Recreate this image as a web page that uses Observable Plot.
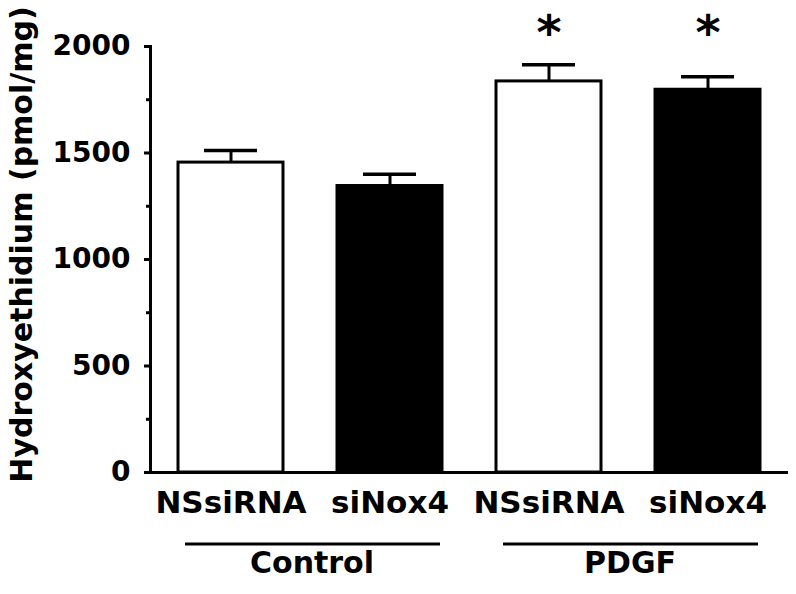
<!DOCTYPE html>
<html><head><meta charset="utf-8">
<script src="https://cdn.jsdelivr.net/npm/d3@7"></script>
<script src="https://cdn.jsdelivr.net/npm/@observablehq/plot@0.6"></script>
<style>body{margin:0;background:#fff}</style>
</head><body><div id="chart"></div>
<script>
const keys = ["c-ns", "c-si", "p-ns", "p-si"];
const treatments = ["NSsiRNA", "siNox4", "NSsiRNA", "siNox4"];
const groups = ["Control", "Control", "PDGF", "PDGF"];
const means = [1455, 1345, 1836, 1797];
const sems = [57, 55, 78, 61];
const fills = ["white", "black", "white", "black"];
const significant = [false, false, true, true];
const groupNames = ["Control", "PDGF"];
const yTicks = [0, 500, 1000, 1500, 2000];
const yMinorTicks = [250, 750, 1250, 1750];
const yTitle = "Hydroxyethidium (pmol/mg)";

const rows = keys.map((k, i) => ({key: k, treatment: treatments[i], group: groups[i], mean: means[i], sem: sems[i], fill: fills[i], sig: significant[i]}));
const groupRows = groupNames.map(g => {
  const ks = rows.filter(r => r.group === g).map(r => r.key);
  return {name: g, first: ks[0], last: ks[ks.length - 1]};
});
const labelOf = Object.fromEntries(rows.map(r => [r.key, r.treatment]));

const chart = Plot.plot({
  width: 796,
  height: 594,
  marginLeft: 150,
  marginRight: 8,
  marginTop: 46,
  marginBottom: 122,
  style: {fontFamily: "DejaVu Sans", fontWeight: "bold", color: "black", background: "white"},
  x: {domain: keys, paddingInner: 0.337, paddingOuter: 0.165, axis: null},
  y: {domain: [0, 2000], axis: null},
  color: {type: "identity"},
  marks: [
    Plot.barY(rows, {x: "key", y: "mean", fill: "fill", stroke: "black", strokeWidth: 3}),
    Plot.ruleX(rows, {x: "key", y1: "mean", y2: d => d.mean + d.sem, stroke: "black", strokeWidth: 3}),
    Plot.tickY(rows, {x: "key", y: d => d.mean + d.sem, stroke: "black", strokeWidth: 3.5, insetLeft: 26, insetRight: 26}),
    Plot.ruleY([0], {stroke: "black", strokeWidth: 3}),
    Plot.frame({anchor: "left", stroke: "black", strokeWidth: 3}),
    Plot.axisY({ticks: yTicks, tickSize: 6, tickPadding: 14, fontSize: 28, strokeWidth: 3, tickFormat: d => String(d), label: null}),
    Plot.axisY({ticks: yMinorTicks, tickSize: 4, tickFormat: () => "", strokeWidth: 3, label: null}),
    Plot.text([yTitle], {text: d => d, frameAnchor: "left", textAnchor: "middle", rotate: -90, dx: -128, dy: -15, fontSize: 30}),
    Plot.axisX({tickFormat: k => labelOf[k], tickSize: 0, tickPadding: 18, fontSize: 31, label: null}),
    Plot.text(rows.filter(r => r.sig), {x: "key", text: () => "*", frameAnchor: "top", dy: -32, fontSize: 48}),
    Plot.rect(groupRows, {x1: "first", x2: "last", y1: 0, y2: 0, dy: 72, insetTop: -1.5, insetBottom: -1.5, insetLeft: 7, insetRight: 2, fill: "black"}),
    Plot.text(groupRows, {x: "first", text: "name", frameAnchor: "bottom", dy: 100, dx: 81, fontSize: 30})
  ]
});
document.getElementById("chart").appendChild(chart);
</script>
</body></html>
